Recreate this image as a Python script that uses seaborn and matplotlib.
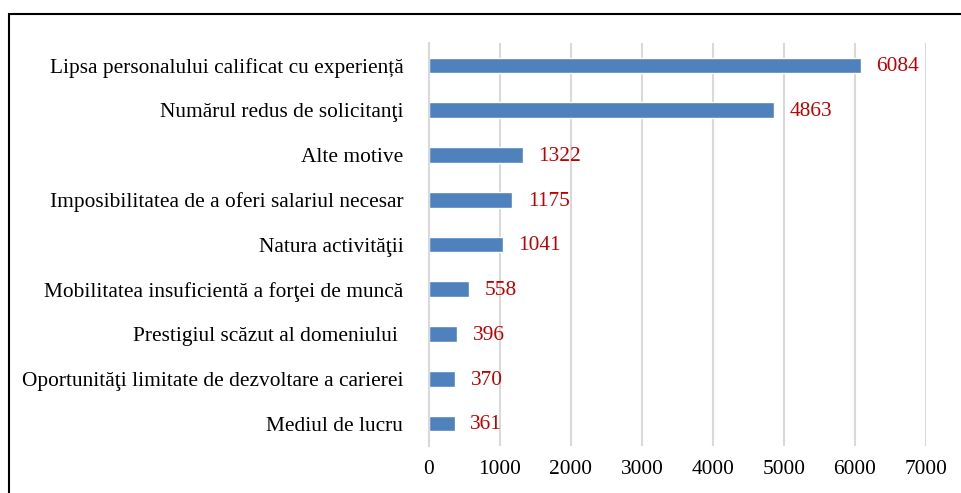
import matplotlib
matplotlib.use("Agg")
import matplotlib.pyplot as plt
import seaborn as sns
import pandas as pd
from matplotlib.patches import Rectangle

categories = [
    "Lipsa personalului calificat cu experiență",
    "Numărul redus de solicitanţi",
    "Alte motive",
    "Imposibilitatea de a oferi salariul necesar",
    "Natura activităţii",
    "Mobilitatea insuficientă a forţei de muncă",
    "Prestigiul scăzut al domeniului ",
    "Oportunităţi limitate de dezvoltare a carierei",
    "Mediul de lucru",
]
values = [6084, 4863, 1322, 1175, 1041, 558, 396, 370, 361]
x_ticks = [0, 1000, 2000, 3000, 4000, 5000, 6000, 7000]

df = pd.DataFrame({"motiv": categories, "valoare": values})

sns.set_style("white")
plt.rcParams["font.family"] = ["Liberation Serif", "DejaVu Serif"]
plt.rcParams["text.color"] = "black"
plt.rcParams["xtick.color"] = "black"
plt.rcParams["ytick.color"] = "black"

FS = 15.4

fig = plt.figure(figsize=(9.61, 4.93), dpi=100)
ax = fig.add_axes([0.4464, 0.0953, 0.5172, 0.8175])

sns.barplot(data=df, x="valoare", y="motiv", color="#4F81BD", width=0.35,
            saturation=1, ax=ax, orient="h")

# value labels in red, to the right of each bar
for i, v in enumerate(values):
    ax.text(v + 220, i + 0.03, str(v), color="#C00000", fontsize=FS,
            va="center", ha="left")

ax.set_xlim(0, 7000)
ax.set_ylim(len(categories) - 0.5, -0.5)
ax.set_xticks(x_ticks)
ax.set_xticklabels([str(t) for t in x_ticks], fontsize=FS)
ax.tick_params(axis="y", labelsize=FS, length=0, pad=18.5)
ax.tick_params(axis="x", length=0, pad=10)
ax.set_xlabel("")
ax.set_ylabel("")
ax.grid(axis="x", color="#D9D9D9", linewidth=1.5)
ax.set_axisbelow(True)
for s in ["top", "right", "bottom"]:
    ax.spines[s].set_visible(False)
ax.spines["left"].set_color("#D9D9D9")
ax.spines["left"].set_linewidth(1.5)

# outer frame (partly cut off at right and bottom)
fig.patches.append(Rectangle((9 / 961, -0.1), 1.2, 1 - 14 / 493 + 0.1,
                             transform=fig.transFigure, fill=False,
                             edgecolor="black", linewidth=1.5))

fig.savefig("out.png", dpi=100)
